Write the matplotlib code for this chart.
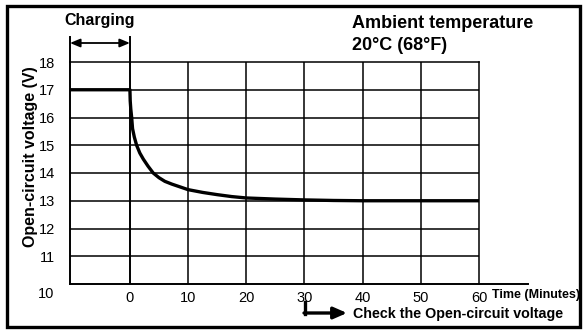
import matplotlib
matplotlib.use("Agg")
import matplotlib.pyplot as plt
from matplotlib.patches import Rectangle, FancyArrowPatch
import matplotlib.transforms as mtransforms

plt.rcParams['font.family'] = ['Liberation Sans', 'DejaVu Sans']

# Open-circuit voltage after charging (minutes, volts)
time_min = [-10.3, 0.0, 0.05, 0.15, 0.3, 0.45, 0.75, 1.15, 1.7, 2.3, 3.1, 4.0, 5.0, 6.0,
            7.2, 8.6, 10.0, 12.5, 15.0, 17.5, 20.0, 25.0, 30.0, 35.0, 40.0, 50.0, 60.0]
voltage = [17.0, 17.0, 16.6, 16.3, 16.0, 15.6, 15.3, 15.0, 14.72, 14.5, 14.25, 14.0, 13.83, 13.7,
           13.6, 13.5, 13.4, 13.3, 13.22, 13.15, 13.1, 13.06, 13.03, 13.01, 13.0, 13.0, 13.0]

x_ticks = [0, 10, 20, 30, 40, 50, 60]
y_ticks = [10, 11, 12, 13, 14, 15, 16, 17, 18]

fig = plt.figure(figsize=(5.84, 3.30), dpi=100)
fig.patch.set_facecolor('white')

W, H = 584, 330
ax = fig.add_axes([70 / W, 1 - 284 / H, (479 - 70) / W, (284 - 62) / H])
ax.set_xlim(-10.3, 60)
ax.set_ylim(10, 18)

# grid
for xv in x_ticks[1:-1]:
    ax.axvline(xv, color='black', lw=1.1, zorder=1)
for yv in y_ticks[1:-1]:
    ax.axhline(yv, color='black', lw=1.1, zorder=1)

for s in ['top', 'right']:
    ax.spines[s].set_linewidth(1.1)
ax.spines['left'].set_linewidth(1.4)
ax.spines['bottom'].set_visible(False)

# curve
ax.plot(time_min, voltage, color='black', lw=2.4, solid_capstyle='butt',
        solid_joinstyle='round', zorder=3)

# ticks
ax.set_xticks(x_ticks)
ax.set_xticklabels([str(v) for v in x_ticks], fontsize=10.5)
ax.set_yticks(y_ticks)
ax.set_yticklabels([str(v) for v in y_ticks], fontsize=10.5)
ax.tick_params(axis='both', length=0)
ax.tick_params(axis='x', pad=5)
ax.tick_params(axis='y', pad=11)
lbl10 = ax.get_yticklabels()[0]
lbl10.set_transform(lbl10.get_transform() + mtransforms.ScaledTranslation(0, -8 / 100, fig.dpi_scale_trans))

fig.text(31 / W, 1 - 157 / H, 'Open-circuit voltage (V)', fontsize=11.5, fontweight='bold',
         rotation=90, ha='center', va='center')

bt = mtransforms.blended_transform_factory(ax.transData, fig.transFigure)

# extended bottom axis line
ax.plot([-10.3, 68.4], [10, 10], color='black', lw=1.4, clip_on=False, zorder=4)

# charging bracket
top_y = 1 - 37 / H
ax_top = 1 - 62 / H
for xv in [-10.3, 0]:
    ax.plot([xv, xv], [ax_top, top_y], color='black', lw=1.4, transform=bt, clip_on=False)
ax.plot([0, 0], [10, 18], color='black', lw=1.4, zorder=2)
arr = FancyArrowPatch((-10.3, 1 - 43 / H), (0, 1 - 43 / H), transform=bt,
                      arrowstyle='<|-|>,head_length=6,head_width=2.5', color='black', lw=1.3,
                      shrinkA=0, shrinkB=0)
fig.add_artist(arr)
fig.text(100 / W, 1 - 21 / H, 'Charging', fontsize=11.5, fontweight='bold', ha='center', va='center')

fig.text(352 / W, 1 - 24 / H, 'Ambient temperature', fontsize=13, fontweight='bold', ha='left', va='center')
fig.text(352 / W, 1 - 45 / H, '20°C (68°F)', fontsize=13, fontweight='bold', ha='left', va='center')

fig.text(492 / W, 1 - 295 / H, 'Time (Minutes)', fontsize=9, fontweight='bold', ha='left', va='center')
fig.text(353 / W, 1 - 314 / H, 'Check the Open-circuit voltage', fontsize=10.3, fontweight='bold',
         ha='left', va='center')

# L-shaped pointer
fig.add_artist(plt.Line2D([305 / W, 305 / W], [1 - 302 / H, 1 - 313.5 / H], color='black', lw=2.4,
                          transform=fig.transFigure))
arr2 = FancyArrowPatch((304 / W, 1 - 313 / H), (347 / W, 1 - 313 / H), transform=fig.transFigure,
                       arrowstyle='-|>,head_length=8,head_width=3.5', color='black', lw=2.4,
                       shrinkA=0, shrinkB=0)
fig.add_artist(arr2)

# outer frame
fig.add_artist(Rectangle((6.5 / W, 1 - 326.5 / H), (580 - 6.5) / W, (326.5 - 6) / H,
                         transform=fig.transFigure, fill=False, lw=2.4, edgecolor='black'))

fig.savefig('out.png', dpi=100, facecolor='white')
